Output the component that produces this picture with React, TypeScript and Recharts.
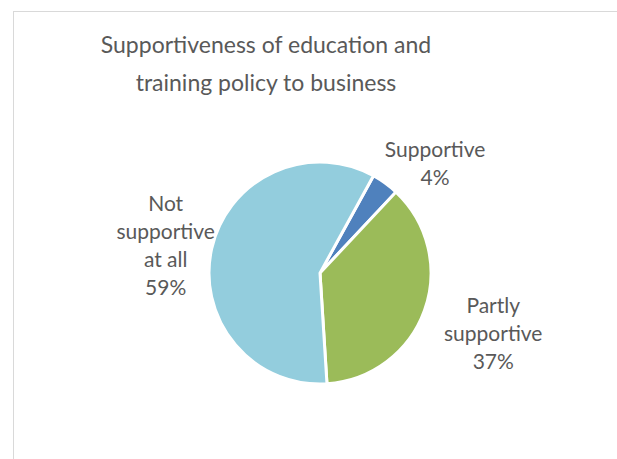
import React from 'react';
import { PieChart, Pie, Cell } from 'recharts';

const categories = ['Supportive', 'Partly supportive', 'Not supportive at all'];
const shares = [4, 37, 59];
const colors = ['#4f81bd', '#9bbb59', '#93cddd'];
// how each label is wrapped, as in the original chart
const labelLines = [['Supportive'], ['Partly', 'supportive'], ['Not', 'supportive', 'at all']];
const titleLines = ['Supportiveness of education and', 'training policy to business'];

const data = categories.map((name, i) => ({ name, value: shares[i] }));

const RAD = Math.PI / 180;
// label distance from the centre and a small angle nudge (best-fit style)
const labelRadius = [160, 183, 157];
const labelNudge = [-10, 1, 2];

const renderLabel = (props: any) => {
  const { cx, cy, midAngle, index, value } = props;
  const a = (midAngle + labelNudge[index]) * RAD;
  const x = cx + labelRadius[index] * Math.cos(a);
  const y = cy - labelRadius[index] * Math.sin(a);
  const lines = [...labelLines[index], `${value}%`];
  const lh = 28;
  const top = y - ((lines.length - 1) * lh) / 2;
  return (
    <text
      x={x}
      y={top}
      textAnchor="middle"
      dominantBaseline="central"
      fill="#595959"
      fontSize={21}
      fontFamily="Lato, 'Open Sans', sans-serif"
    >
      {lines.map((l, i) => (
        <tspan key={i} x={x} dy={i === 0 ? 0 : lh}>
          {l}
        </tspan>
      ))}
    </text>
  );
};

const App: React.FC = () => {
  return (
    <div style={{ position: 'absolute', left: 0, top: 0, width: 617, height: 459, overflow: 'hidden', background: '#fff' }}>
      {/* chart area border, runs off the right and bottom edges */}
      <div
        style={{
          position: 'absolute',
          left: 13,
          top: 11,
          width: 700,
          height: 600,
          border: '1.5px solid #d9d9d9',
        }}
      />
      <div
        style={{
          position: 'absolute',
          left: 66,
          top: 25,
          width: 400,
          textAlign: 'center',
          fontFamily: "Lato, 'Open Sans', sans-serif",
          fontSize: 23,
          lineHeight: '38px',
          color: '#595959',
        }}
      >
        {titleLines.map((t, i) => (
          <div key={i}>{t}</div>
        ))}
      </div>
      <div style={{ position: 'absolute', left: 0, top: 0 }}>
        <PieChart width={617} height={459}>
          <Pie
            data={data}
            dataKey="value"
            nameKey="name"
            cx={315}
            cy={268}
            outerRadius={111}
            startAngle={61.2}
            endAngle={-298.8}
            stroke="#fff"
            strokeWidth={3}
            label={renderLabel}
            labelLine={false}
            isAnimationActive={false}
          >
            {data.map((d, i) => (
              <Cell key={d.name} fill={colors[i]} />
            ))}
          </Pie>
        </PieChart>
      </div>
    </div>
  );
};

export default App;
